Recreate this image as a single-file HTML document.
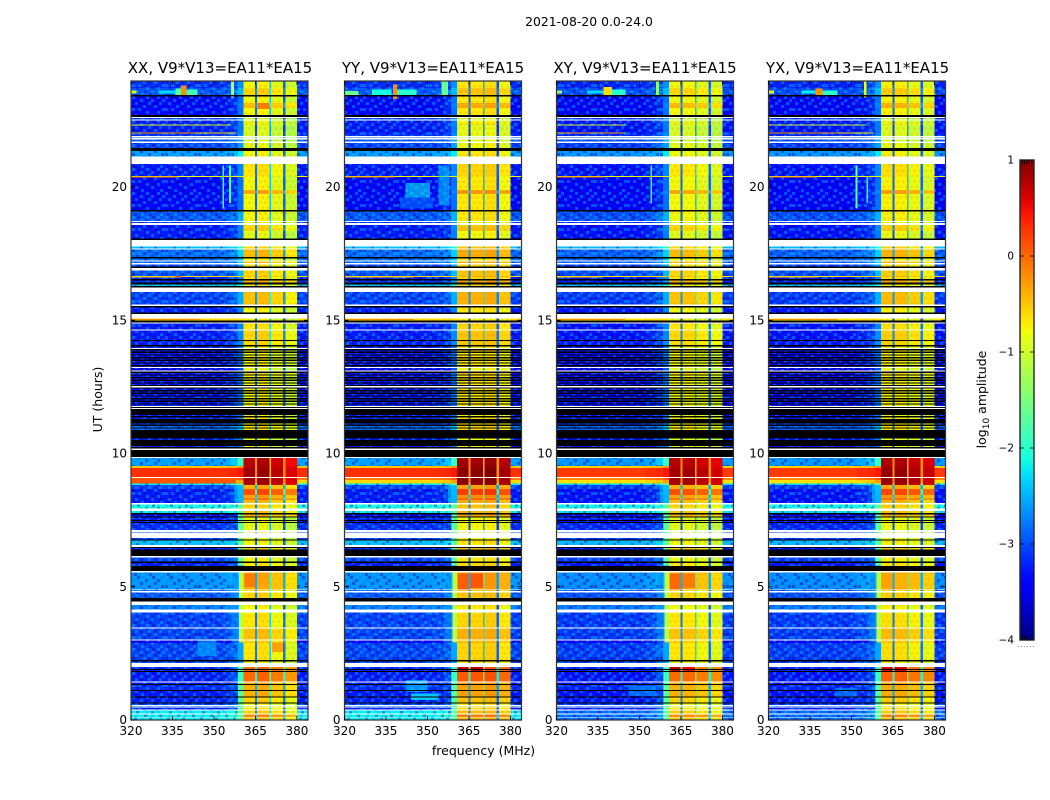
<!DOCTYPE html>
<html>
<head>
<meta charset="utf-8">
<title>2021-08-20 0.0-24.0</title>
<style>
html,body{margin:0;padding:0;background:#fff;}
svg{display:block;}
text{font-family:"DejaVu Sans","Liberation Sans",sans-serif;fill:#000;}
</style>
</head>
<body>
<svg id="chart" xmlns="http://www.w3.org/2000/svg" width="1050" height="800" viewBox="0 0 1050 800">
  <defs>
    <pattern id="speckle" patternUnits="userSpaceOnUse" width="33" height="24">
      <g fill="#00b4ff" opacity=".45">
        <rect x="0" y="0" width="3" height="3"/><rect x="14" y="0" width="3" height="3"/><rect x="25" y="0" width="3" height="3"/>
        <rect x="8" y="3" width="3" height="3"/><rect x="19" y="3" width="3" height="3"/><rect x="30" y="3" width="3" height="3"/>
        <rect x="3" y="6" width="3" height="3"/><rect x="16" y="6" width="3" height="3"/><rect x="27" y="6" width="3" height="3"/>
        <rect x="11" y="9" width="3" height="3"/><rect x="22" y="9" width="3" height="3"/>
        <rect x="0" y="12" width="3" height="3"/><rect x="6" y="12" width="3" height="3"/><rect x="30" y="12" width="3" height="3"/>
        <rect x="14" y="15" width="3" height="3"/><rect x="25" y="15" width="3" height="3"/>
        <rect x="3" y="18" width="3" height="3"/><rect x="19" y="18" width="3" height="3"/>
        <rect x="9" y="21" width="3" height="3"/><rect x="28" y="21" width="3" height="3"/>
      </g>
      <g fill="#0000a0" opacity=".4">
        <rect x="5" y="0" width="3" height="3"/><rect x="20" y="0" width="3" height="3"/>
        <rect x="13" y="3" width="3" height="3"/><rect x="25" y="3" width="3" height="3"/>
        <rect x="8" y="6" width="3" height="3"/><rect x="22" y="6" width="3" height="3"/>
        <rect x="0" y="9" width="3" height="3"/><rect x="16" y="9" width="3" height="3"/><rect x="29" y="9" width="3" height="3"/>
        <rect x="11" y="12" width="3" height="3"/><rect x="23" y="12" width="3" height="3"/>
        <rect x="4" y="15" width="3" height="3"/><rect x="19" y="15" width="3" height="3"/>
        <rect x="12" y="18" width="3" height="3"/><rect x="27" y="18" width="3" height="3"/>
        <rect x="2" y="21" width="3" height="3"/><rect x="17" y="21" width="3" height="3"/>
      </g>
    </pattern>
    <pattern id="band-speckle" patternUnits="userSpaceOnUse" width="11" height="10.6">
      <g fill="#ff7800" opacity=".22">
        <rect x="0" y="0" width="2.8" height="2.7"/><rect x="5.5" y="0" width="2.8" height="2.7"/>
        <rect x="2.8" y="5.3" width="2.8" height="2.7"/><rect x="8.3" y="5.3" width="2.8" height="2.7"/>
      </g>
    </pattern>
    <linearGradient id="cb-gradient" x1="0" y1="0" x2="0" y2="1"></linearGradient>
  </defs>

  <text x="589" y="26" font-size="12.4" text-anchor="middle">2021-08-20 0.0-24.0</text>
  <text x="220" y="73" font-size="15" text-anchor="middle">XX, V9*V13=EA11*EA15</text>
  <text x="433" y="73" font-size="15" text-anchor="middle">YY, V9*V13=EA11*EA15</text>
  <text x="645" y="73" font-size="15" text-anchor="middle">XY, V9*V13=EA11*EA15</text>
  <text x="857.500" y="73" font-size="15" text-anchor="middle">YX, V9*V13=EA11*EA15</text>
  <text x="483.500" y="755" font-size="12.500" text-anchor="middle">frequency (MHz)</text>
  <text transform="translate(102,399.500) rotate(-90)" font-size="12.500" text-anchor="middle">UT (hours)</text>
  <text transform="translate(986,399.500) rotate(-90)" font-size="12.500" text-anchor="middle">log<tspan font-size="9" dy="3">10</tspan><tspan dy="-3"> amplitude</tspan></text>
  <g id="panels"></g>
  <g id="colorbar"></g>
</svg>

<script>
// ---- shared row structure (UT of each row's top edge, top to bottom) ----
const W = null;   // masked (white) row
const K = -9;     // flagged (black) row

const rowTopUT = [
 23.98,23.71,23.45,23.39,23.15,22.96,22.70,22.62,22.58,22.53,
 22.49,22.36,22.32,22.06,22.01,21.91,21.86,21.83,21.78,21.70,
 21.66,21.46,21.36,21.14,20.86,20.41,20.37,19.89,19.74,19.14,
 19.09,18.72,18.68,18.64,18.58,18.35,18.07,18.01,17.76,17.70,
 17.65,17.38,17.31,17.25,17.21,17.14,17.10,17.01,16.96,16.86,
 16.66,16.62,16.55,16.49,16.41,16.35,16.28,16.23,16.06,15.60,15.54,15.48,
 15.43,15.30,15.23,15.06,15.00,14.91,14.87,14.65,14.61,14.26,
 14.22,14.07,14.01,13.96,13.92,13.87,13.82,13.77,13.72,13.67,
 13.62,13.57,13.52,13.47,13.42,13.37,13.32,13.27,13.24,13.21,
 13.11,13.07,13.02,12.97,12.92,12.87,12.82,12.77,12.72,12.67,
 12.62,12.57,12.53,12.48,12.43,12.38,12.33,12.28,12.23,12.18,
 12.13,12.08,12.03,11.98,11.93,11.88,11.83,11.78,11.74,11.71,
 11.67,11.44,11.41,11.36,11.30,11.13,11.08,11.03,10.98,10.93,
 10.88,10.57,10.51,10.29,10.24,10.19,10.13,9.87,9.83,9.53,
 9.45,9.12,9.08,9.00,8.87,8.82,8.67,8.44,8.33,8.25,
 8.14,8.09,7.94,7.84,7.77,7.71,7.63,7.59,7.50,7.47,7.43,
 7.39,7.13,7.06,7.03,6.83,6.78,6.73,6.57,6.50,6.45,
 6.39,6.15,6.10,5.94,5.89,5.78,5.60,5.53,4.90,4.87,
 4.84,4.79,4.57,4.44,4.31,4.15,4.03,3.48,3.43,3.03,
 2.98,2.89,2.25,2.20,2.13,1.98,1.91,1.88,1.84,1.80,
 1.44,1.40,1.35,1.31,1.13,1.09,0.88,0.84,0.66,0.62,
 0.56,0.53,0.50,0.46,0.40,0.35,0.25,0.21,0.12,0.09
];

// log10 amplitude of the off-band continuum per row
const lowAmp = [
 -3.15,-2.95,K,-3.35,-3.35,-3.35,K,W,-3.05,W,
 -3.25,-3.25,-3.25,-3.25,-3.15,W,-2.95,W,-2.95,W,
 -3.05,K,-2.6,W,-3.25,-0.8,-3.35,-3.35,-3.35,K,
 -2.95,W,-3.15,W,-3.25,-3.25,K,W,-2.4,W,
 -2.85,K,-2.85,W,-2.85,W,-3.05,K,W,-2.95,
 -0.6,-3.25,K,-3.15,K,-2.4,K,W,-3.05,W,K,-3.15,
 -3.25,K,W,-0.6,K,W,-3.25,W,-3.25,K,
 -3.25,K,-3.25,W,K,-3.3,K,-3.3,K,-3.3,
 K,-3.3,K,-3.3,K,-3.3,K,-3.25,W,-3.5,
 W,K,-3.3,K,-3.3,K,-3.3,K,-3.3,K,
 -3.3,K,W,K,-3.3,K,-3.3,K,-3.3,K,
 -3.3,K,-3.3,K,-3.3,K,-3.25,W,K,W,
 K,-3.3,K,-3.2,K,-3.05,K,-2.85,K,-2.85,
 K,-3.25,K,-3.25,K,W,K,W,-2.6,-0.5,
 0.3,W,-0.1,-0.6,-2.2,-3.05,-3.25,-3.25,-3.25,-3.25,
 W,-2.1,W,-2.2,K,-3.4,K,-3.25,K,-3.25,K,
 -3.15,W,-3.05,W,-3.05,K,-2.4,W,K,-3.25,
 K,W,-3.05,K,-3.25,K,W,-2.65,W,-2.85,
 W,-2.95,K,W,-2.75,W,-3.05,W,-3.05,W,
 -3.4,-3.05,K,-3.05,W,-3.15,K,-3.25,K,-3.25,
 W,-3.25,K,-3.15,K,-3.25,K,-3.25,K,-3.05,
 W,-2.75,W,-3.25,W,-2.2,W,-2.2,W,-2.2
];

// log10 amplitude inside the 360-380 MHz passband per row
const bandAmp = [
 -0.7,-0.5,K,-0.7,-0.35,-0.7,K,W,-1,W,
 -0.8,-0.6,-0.9,-0.8,-0.9,W,-1,W,-0.9,W,
 -0.8,K,-0.7,W,-0.6,-0.7,-0.7,-0.25,-0.7,K,
 -0.7,W,-0.8,W,-0.5,-0.8,K,W,-0.5,W,
 -0.35,K,-0.7,W,-0.4,W,-0.6,K,W,-0.5,
 -0.4,-0.6,K,-0.3,K,-0.6,K,W,-0.4,W,K,-0.7,
 -0.7,K,W,-0.8,K,W,-0.6,W,-0.5,K,
 -0.5,K,-0.7,W,K,-0.7,K,-0.7,K,-0.7,
 K,-0.7,K,-0.7,K,-0.7,K,-0.6,W,-0.8,
 W,K,-0.5,K,-0.7,K,-0.7,K,-0.7,K,
 -0.7,K,W,K,-0.7,K,-0.7,K,-0.7,K,
 -0.7,K,-0.7,K,-0.7,K,-0.7,W,K,W,
 K,-0.8,K,-0.6,K,-0.7,K,-0.6,K,-0.6,
 K,-0.8,K,-0.8,K,W,K,W,0.85,0.9,
 0.95,W,0.95,0.95,0.85,-0.3,0.25,-0.2,0,-0.35,
 W,-0.5,W,-0.4,K,-0.3,K,-0.8,K,-0.8,K,
 -0.8,W,-0.8,W,-0.8,K,-0.7,W,K,-0.5,
 K,W,-0.7,K,-0.6,K,W,-0.3,W,-0.6,
 W,-0.5,K,W,-0.7,W,-0.6,W,-0.4,W,
 -0.5,-0.6,K,-0.7,W,0.1,K,0.2,K,0.1,
 W,-0.3,K,-0.3,K,-0.3,K,-0.5,K,-0.7,
 W,-0.6,W,-0.6,W,-0.5,W,-0.1,W,-0.4
];

// ---- frequency columns (MHz edges) ----
const freqEdges = [320,345,352,356,358.5,360.6,364.8,365.6,370,370.6,375,375.8,380.1,384];
// how much of the passband level leaks into each column (0 = continuum, 1 = passband)
const columnLeak = [0,0,0.02,0.07,0.2,1,1,1,1,1,1,1,0];

// ---- per-polarisation column offsets in log10 amplitude ----
const xxOffsets = [0,0,0,0,0,-0.1,-2.2,-0.05,-1.7,-0.2,-2.2,-0.35,0];
const yyOffsets = [0,0,0,0,0,0,-2.2,0,-1.8,0.05,-2.3,-0.1,0];
const xyOffsets = [-0.05,-0.05,0,0,0,-0.1,-2.2,-0.1,-1.7,-0.2,-2.2,-0.3,-0.05];
const yxOffsets = [-0.05,-0.05,0,0,0,-0.05,-2.2,-0.05,-1.7,-0.15,-2.2,-0.25,-0.05];

// continuum shift for the lowest rows (UT below 0.4 h) by polarisation
const bottomShift = [0,0,-0.6,-0.6];

// ---- localized features: [freqMin, freqMax, utMin, utMax, amplitude] ----
const sharedFeatures = [
 [359,360.6,2.9,5.6,-1.1],[356.5,359,2.9,5.6,-2.7],[358.6,360.6,5.8,8.1,-1.7],[357.5,360.6,8.15,8.82,-2.4],
 [364.8,365.6,8.87,9.83,-0.2],[370,370.6,8.87,9.83,-0.4],[375,375.8,8.87,9.83,-0.2],
 [358.6,360.6,1.45,2.0,-1.9],[358.6,360.6,0,1.4,-1.7]
];
const xxFeatures = [
 [320,322,23.5,23.62,-1],[330,336,23.5,23.62,-2.3],[336,338,23.45,23.7,-1.7],[338,340,23.45,23.8,-0.2],[340,344,23.45,23.65,-1.9],[356.2,357.2,23.35,23.98,-1.1],
 [320,356,22.33,22.35,-0.9],[320,345,22.02,22.05,-0.2],[345,358,22.02,22.05,-0.6],
 [320,337,20.38,20.40,-0.1],[353,353.7,19.2,20.8,-1.9],[355.5,356.2,19.4,20.8,-1.8],
 [320,338,16.63,16.65,-0.5],[336,338,16.63,16.66,0.2],
 [320,345,15.01,15.05,-0.2],[320,358,8.87,9.08,0.1],[344,351,2.4,3.0,-2.5],[361,364.8,5.0,5.5,-0.1],[365.6,370,5.1,5.5,-0.3],
 [365.6,370,22.95,23.15,-0.1],[371,375,2.55,2.9,-0.3]
];
const yyFeatures = [
 [320,325,23.45,23.6,-1.6],[330,337,23.45,23.65,-2.1],[337.5,339,23.3,23.85,-0.2],[339,346,23.45,23.65,-2],[355,357.5,23.4,23.98,-1.6],
 [320,338,20.38,20.40,-0.1],[342,351,19.6,20.15,-2.2],[340,352,19.2,19.6,-2.8],[354,358,19.3,20.8,-2.4],
 [320,345,16.63,16.65,-0.5],[320,345,15.01,15.05,-0.2],[342,350,1.05,1.5,-2.3],[344,354,0.75,1.0,-2.4],
 [361,364.8,4.9,5.5,0.05],[365.6,370,4.95,5.5,0.1],[361,364.8,1.8,1.98,0.7],[365.6,370,1.8,1.98,0.7]
];
const xyFeatures = [
 [320,322,23.5,23.62,-1.2],[331,337,23.5,23.62,-2.3],[337,340,23.45,23.75,-0.6],[340,345,23.45,23.65,-2],[356,357,23.4,23.98,-1.4],
 [320,345,22.33,22.35,-1],[320,345,22.02,22.05,-0.3],[320,337,20.38,20.40,-0.1],[354,354.6,19.4,20.8,-2],
 [320,336,16.63,16.65,-0.5],[320,345,15.01,15.05,-0.2],[346,356,0.9,1.3,-2.6],
 [361,364.8,4.9,5.5,0],[365.6,370,4.95,5.5,-0.1],[361,364.8,1.8,1.98,0.7],[365.6,370,1.8,1.98,0.5]
];
const yxFeatures = [
 [320,322,23.5,23.62,-0.8],[332,337,23.5,23.62,-2.2],[337,339.5,23.4,23.7,-0.2],[339.5,345,23.45,23.62,-2],[354.5,355.5,23.35,23.98,-0.8],
 [320,355,22.33,22.35,-1],[320,345,22.02,22.05,-0.2],[345,358,22.02,22.05,-0.7],[320,337,20.38,20.40,-0.1],[351.5,352.2,19.2,20.8,-1.7],[355.5,356,19.4,20.4,-2],
 [320,338,16.63,16.65,-0.5],[320,345,15.01,15.05,-0.2],[344,352,0.85,1.2,-2.6],
 [361,364.8,5.0,5.5,-0.3],[365.6,370,5.0,5.5,-0.4],[361,364.8,1.8,1.98,0.6],[365.6,370,1.8,1.98,0.6]
];

// ---- axis tick labels ----
const polarisations = ['xx','yy','xy','yx'];
const freqTicks = [320,335,350,365,380];
const utTicks = [0,5,10,15,20];
const cbTicks = [1,0,-1,-2,-3,-4];
const cbTickLabels = ['1','0','\u22121','\u22122','\u22123','\u22124'];
const cbMinorPositions = [0.16,0.33,0.5,0.67,0.84];

// ---- layout ----
const panelLefts = [131,344.5,556.5,768.5];
const panelWidth = 177, panelTop = 81, panelBottom = 720;
const cbLeft = 1020, cbWidth = 14, cbTop = 160, cbBottom = 640;
const NS = 'http://www.w3.org/2000/svg';

const xScale = (left, f) => left + (f - 320) * panelWidth / 64;
const yScale = ut => panelBottom - ut * 26.65;
const cbScale = v => cbBottom - (v + 4) * (cbBottom - cbTop) / 5;

function jet(v){
  const t = Math.max(0, Math.min(1, (v + 4) / 5));
  const ch = (x) => Math.round(255 * Math.max(0, Math.min(1, x)));
  const r = t < 0.35 ? 0 : t < 0.66 ? (t - 0.35) / 0.31 : t < 0.89 ? 1 : 1 - (t - 0.89) / 0.11 * 0.5;
  const g = t < 0.125 ? 0 : t < 0.375 ? (t - 0.125) / 0.25 : t < 0.64 ? 1 : t < 0.91 ? 1 - (t - 0.64) / 0.27 : 0;
  const b = t < 0.11 ? 0.5 + t / 0.11 * 0.5 : t < 0.34 ? 1 : t < 0.65 ? 1 - (t - 0.34) / 0.31 : 0;
  return 'rgb(' + ch(r) + ',' + ch(g) + ',' + ch(b) + ')';
}

function draw(tag, parent, props){
  const el = document.createElementNS(NS, tag);
  for (const k in props) el.setAttribute(k, props[k]);
  parent.appendChild(el);
  return el;
}

const rowBottom = i => i + 1 < rowTopUT.length ? rowTopUT[i + 1] : 0;
const panelsRoot = document.getElementById('panels');
const allOffsets = [xxOffsets, yyOffsets, xyOffsets, yxOffsets];
const allFeatures = [xxFeatures, yyFeatures, xyFeatures, yxFeatures];

polarisations.forEach(function(pol, p){
  const left = panelLefts[p];
  const g = draw('g', panelsRoot, {});
  
  
  const heat = draw('g', g, {'shape-rendering': 'crispEdges'});
  
  

  rowTopUT.forEach(function(top, r){
    const y0 = yScale(top), y1 = yScale(rowBottom(r));
    if (lowAmp[r] === W) return;
    if (lowAmp[r] === K) {
      const blk = draw('rect', heat, {x: left, y: y0, width: panelWidth, height: y1 - y0, fill: '#000'});
      
      
      return;
    }
    const low = lowAmp[r] + (top <= 0.4 ? bottomShift[p] : 0);
    for (let c = 0; c < columnLeak.length; c++) {
      const x0 = xScale(left, freqEdges[c]), x1 = xScale(left, freqEdges[c + 1]);
      const val = low + (bandAmp[r] - low) * columnLeak[c] + allOffsets[p][c];
      const cell = draw('rect', heat, {x: x0, y: y0, width: x1 - x0, height: y1 - y0, fill: jet(val)});
      
      
    }
  });

  rowTopUT.forEach(function(top, r){
    if (lowAmp[r] === W || lowAmp[r] === K) return;
    const y0 = yScale(top), y1 = yScale(rowBottom(r));
    if (bandAmp[r] < 0.5) {
      const bandTex = draw('rect', heat, {x: xScale(left, 360.6), y: y0, width: xScale(left, 380.1) - xScale(left, 360.6), height: y1 - y0, fill: 'url(#band-speckle)'});
      
      
    }
    if (lowAmp[r] > -1.5) return;
    const tex = draw('rect', heat, {x: left, y: y0, width: xScale(left, 358.5) - left, height: y1 - y0, fill: 'url(#speckle)'});
    
    
    const tex2 = draw('rect', heat, {x: xScale(left, 380.1), y: y0, width: xScale(left, 384) - xScale(left, 380.1), height: y1 - y0, fill: 'url(#speckle)'});
    
    
  });

  sharedFeatures.concat(allFeatures[p]).forEach(function(f){
    const soft = (f[3] - f[2]) > 0.25 && f[4] < -1.8 && (f[1] - f[0]) > 2;
    rowTopUT.forEach(function(top, r){
      const bot = rowBottom(r);
      if (lowAmp[r] === W || lowAmp[r] === K) return;
      if (bot >= f[3] || top <= f[2]) return;
      const y0 = yScale(Math.min(top, f[3])), y1 = yScale(Math.max(bot, f[2]));
      const spot = draw('rect', heat, {x: xScale(left, f[0]), y: y0, width: xScale(left, f[1]) - xScale(left, f[0]), height: Math.max(y1 - y0, 1), fill: jet(f[4]), 'fill-opacity': soft ? 0.6 : 1});
      
      
    });
  });

  const frame = draw('rect', g, {x: left, y: panelTop, width: panelWidth, height: panelBottom - panelTop, fill: 'none', stroke: '#333', 'stroke-width': 1.2});
  
  

  freqTicks.forEach(function(f){
    const x = xScale(left, f);
    const t1 = draw('line', g, {x1: x, x2: x, y1: panelBottom, y2: panelBottom - 4, stroke: '#000', 'stroke-width': 0.8});
    
    
    const t2 = draw('line', g, {x1: x, x2: x, y1: panelTop, y2: panelTop + 4, stroke: '#000', 'stroke-width': 0.8});
    
    
    const lab = draw('text', g, {x: x, y: 735, 'font-size': 12, 'text-anchor': 'middle'});
    lab.textContent = String(f);
    
    
  });

  utTicks.forEach(function(u){
    const y = yScale(u);
    const t1 = draw('line', g, {x1: left, x2: left + 4, y1: y, y2: y, stroke: '#000', 'stroke-width': 0.8});
    
    
    const t2 = draw('line', g, {x1: left + panelWidth, x2: left + panelWidth - 4, y1: y, y2: y, stroke: '#000', 'stroke-width': 0.8});
    
    
    const lab = draw('text', g, {x: left - 4, y: y + 4, 'font-size': 12, 'text-anchor': 'end'});
    lab.textContent = String(u);
    
    
  });
});

// ---- colorbar ----
const cbRoot = document.getElementById('colorbar');
const gradient = document.getElementById('cb-gradient');
for (let i = 0; i <= 50; i++) {
  const stop = document.createElementNS(NS, 'stop');
  stop.setAttribute('offset', (i * 2) + '%');
  stop.setAttribute('stop-color', jet(1 - i / 10));
  gradient.appendChild(stop);
}
const cbBar = draw('rect', cbRoot, {x: cbLeft, y: cbTop, width: cbWidth, height: cbBottom - cbTop, fill: 'url(#cb-gradient)', stroke: '#222', 'stroke-width': 1.4});



cbTicks.forEach(function(v, i){
  const y = cbScale(v);
  const lab = draw('text', cbRoot, {x: 1014, y: y + 3.5, 'font-size': 10.5, 'text-anchor': 'end'});
  lab.textContent = cbTickLabels[i];
  
  
  if (v === 1 || v === -4) return;
  const t1 = draw('line', cbRoot, {x1: cbLeft, x2: cbLeft + 4, y1: y, y2: y, stroke: '#000', 'stroke-width': 0.8});
  
  
  const t2 = draw('line', cbRoot, {x1: cbLeft + cbWidth, x2: cbLeft + cbWidth - 4, y1: y, y2: y, stroke: '#000', 'stroke-width': 0.8});
  
  
});

cbMinorPositions.forEach(function(m){
  const x = cbLeft + m * cbWidth;
  const t1 = draw('line', cbRoot, {x1: x, x2: x, y1: cbTop, y2: cbTop + 4, stroke: '#000', 'stroke-width': 0.8});
  
  
  const t2 = draw('line', cbRoot, {x1: x, x2: x, y1: cbBottom, y2: cbBottom - 4, stroke: '#000', 'stroke-width': 0.8});
  
  
});

const dots = draw('line', cbRoot, {x1: 1018, x2: 1035, y1: 646.5, y2: 646.5, stroke: '#888', 'stroke-width': 1, 'stroke-dasharray': '1 2'});


</script>
</body>
</html>
